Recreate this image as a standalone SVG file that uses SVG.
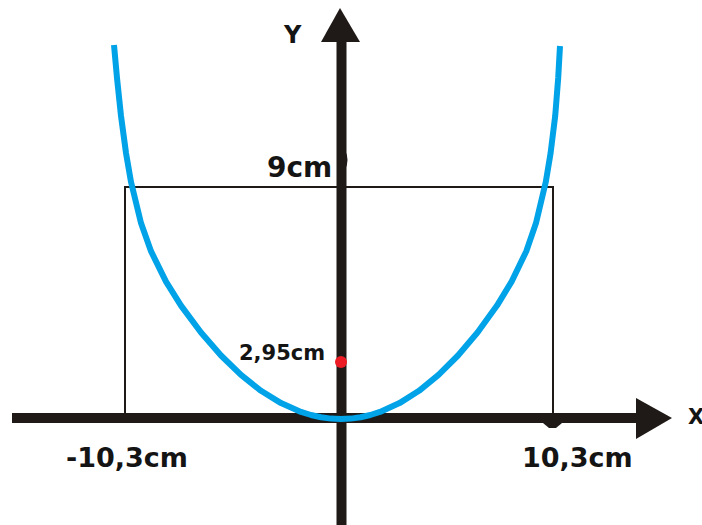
<svg xmlns="http://www.w3.org/2000/svg" width="702" height="525" viewBox="0 0 702 525">
  <style>
    .axis { stroke: #1f1a17; stroke-width: 10; fill: none; }
    .head { fill: #1f1a17; }
    .frame { stroke: #1f1a17; stroke-width: 2; fill: none; }
    .curve { stroke: #00a2e8; stroke-width: 6; fill: none; stroke-linejoin: round; }
    .lbl { font-family: "DejaVu Sans", "Verdana", sans-serif; font-weight: bold; fill: #141414; }
  </style>
  <rect width="702" height="525" fill="#ffffff"/>
  <g id="frame">
    <rect class="frame" x="125" y="187" width="428" height="231"/>
  </g>
  <g id="connectors">
    <line class="axis" x1="12" y1="418" x2="640" y2="418"/>
    <polygon class="head" points="636,398 672,418 636,439"/>
    <line class="axis" x1="341.5" y1="38" x2="341.5" y2="525"/>
    <polygon class="head" points="321,42 340,8 360,42"/>
    <path class="head" d="M543,423 L562,423 L556,428 L549,428 Z"/>
    <path class="head" d="M345,150 Q350,160 345,170 Z"/>
  </g>
  <g id="curve">
    <polyline class="curve" points="114,45 117,78 121,115.9 126,153 131,181.9 141,223.1 151,251.2 166,281.6 181,305.6 201,332.5 221,355.5 241,374.9 261,390.8 281,403.1 301,411.9 311,415 321,417.2 331,418.6 341,419 350.8,418.6 360.5,417.2 370.3,415 380,411.9 399.5,403.1 419,390.8 438.5,374.9 458,355.5 477.5,332.5 497,305.6 511.6,281.6 526.3,251.2 536,223.1 545.8,181.9 550.6,153 555.2,115.9 558.2,78 560,46"/>
  </g>
  <g id="point">
    <circle cx="341" cy="362" r="6" fill="#ed1c24"/>
  </g>
  <g id="labels">
    <text class="lbl" x="284" y="43" font-size="24">Y</text>
    <text class="lbl" x="688" y="424" font-size="21">X</text>
    <text class="lbl" x="267" y="177" font-size="28">9cm</text>
    <text class="lbl" x="239" y="360" font-size="21">2,95cm</text>
    <text class="lbl" x="66" y="467" font-size="27">-10,3cm</text>
    <text class="lbl" x="522" y="467" font-size="27">10,3cm</text>
  </g>
</svg>
